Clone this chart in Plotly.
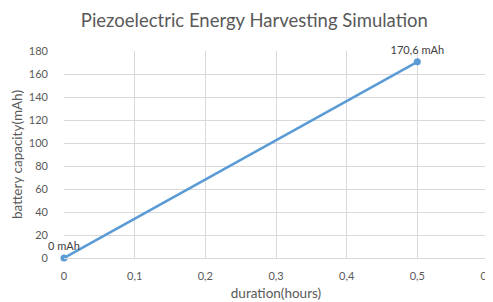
import plotly.graph_objects as go

duration_hours = [0, 0.5]
capacity_mah = [0, 170.6]
point_labels = ["0 mAh", "170,6 mAh"]
x_ticks = [0, 0.1, 0.2, 0.3, 0.4, 0.5, 0.6]
y_ticks = [0, 20, 40, 60, 80, 100, 120, 140, 160, 180]

fig = go.Figure()
fig.add_trace(go.Scatter(
    x=duration_hours, y=capacity_mah,
    mode="lines+markers+text",
    text=point_labels, textposition="top center",
    textfont=dict(size=11, color="#404040"),
    line=dict(color="#5B9BD5", width=2.5),
    marker=dict(color="#5B9BD5", size=7),
    cliponaxis=False,
    showlegend=False,
))

# page body has an 8px default margin, so the figure is 8px smaller
fig.update_layout(
    width=485, height=294,
    margin=dict(l=56, r=5, t=43, b=44, autoexpand=False),
    paper_bgcolor="white", plot_bgcolor="white",
    separators=",.",
    font=dict(family="Lato, Open Sans, sans-serif", color="#595959", size=11),
    title=dict(text="Piezoelectric Energy Harvesting Simulation",
               x=0.508, xanchor="center", y=0.956, yanchor="middle",
               yref="container",
               font=dict(size=18.5, color="#595959")),
    xaxis=dict(range=[0, 0.6], tickvals=x_ticks,
               showgrid=True, gridcolor="#D9D9D9", gridwidth=1,
               zeroline=False, showline=True, linecolor="#D9D9D9",
               ticks="", ticklabelstandoff=8, automargin=False,
               ticklabeloverflow="allow",
               title=dict(text="duration(hours)", standoff=7,
                          font=dict(size=13.5, color="#595959"))),
    yaxis=dict(range=[0, 180], tickvals=y_ticks,
               showgrid=True, gridcolor="#D9D9D9", gridwidth=1,
               zeroline=False, showline=False, ticks="",
               ticklabelstandoff=15, automargin=False,
               title=dict(text="battery capacity(mAh)", standoff=3,
                          font=dict(size=13.5, color="#595959"))),
)

fig.write_html("out.html")
